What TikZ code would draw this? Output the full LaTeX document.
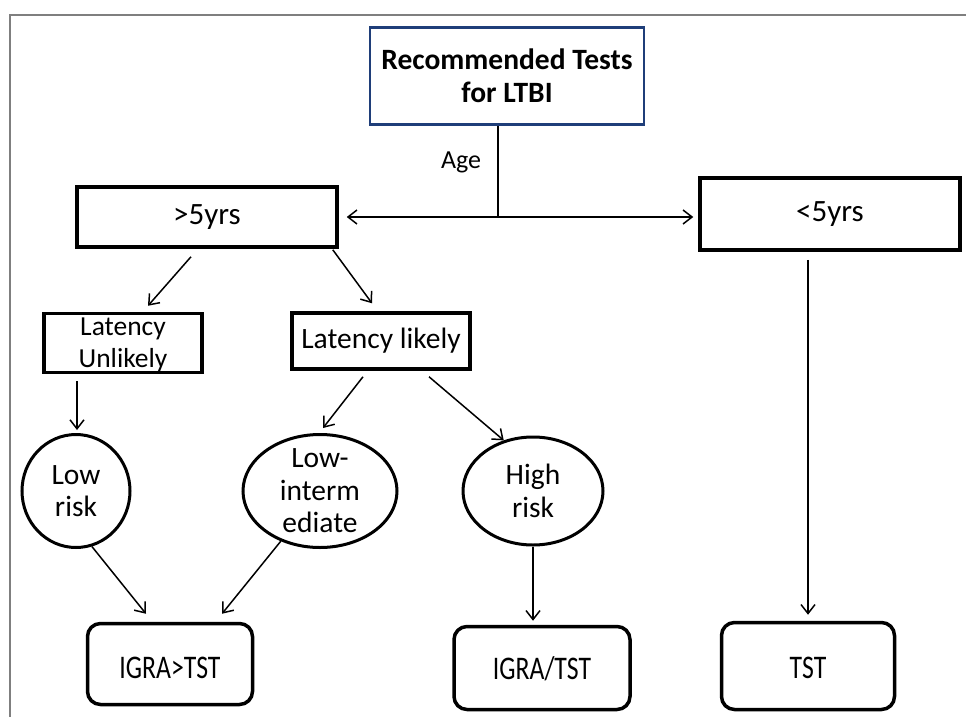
\documentclass[tikz,border=0pt]{standalone}
\usepackage{fontspec}
\setmainfont{Carlito}
\newfontfamily\testfont[FakeStretch=0.78]{Carlito}
\usetikzlibrary{shapes.geometric,arrows.meta}
\definecolor{ltbiblue}{HTML}{1F3E79}
\definecolor{framegray}{HTML}{7F7F7F}

\begin{document}
\begin{tikzpicture}[x=1pt,y=-1pt,
  every node/.style={font=\fontsize{29.5}{32.5}\selectfont, align=center, inner sep=0pt},
  agebox/.style={draw, line width=3.5pt},
  riskoval/.style={draw, ellipse, line width=3pt, inner sep=-8pt},
  testbox/.style={draw, rounded corners=13pt, line width=3.5pt, text height=29pt,
    font=\testfont\fontsize{33}{36}\selectfont},
  >={Straight Barb[length=9pt,width=14pt]},
  link/.style={line width=1.5pt}]
\useasboundingbox (0,0) rectangle (966,717);
\draw[framegray, line width=1.5pt] (10,717) -- (10,15) -- (966,15);
\node[draw=ltbiblue, line width=2.5pt, minimum width=274, minimum height=97,
  font=\fontsize{29.5}{33}\selectfont\bfseries] (top) at (507,76) {Recommended Tests\\for LTBI};
\node[agebox, minimum width=260, minimum height=60, font=\fontsize{31}{32}\selectfont] (older) at (207,217) {>5yrs};
\node[agebox, minimum width=260, minimum height=72, font=\fontsize{31}{32}\selectfont] (younger) at (830,214) {<5yrs};
\node[agebox, minimum width=158, minimum height=59, text depth=0pt,
  font=\fontsize{27.5}{32}\selectfont] (unlikely) at (123,343) {Latency\\Unlikely};
\node[agebox, minimum width=178, minimum height=56] (likely) at (381,341) {Latency likely};
\node[riskoval, minimum width=108, minimum height=113] (lowrisk) at (76,491) {Low\\risk};
\node[riskoval, minimum width=154, minimum height=113] (lowint) at (320,491) {Low-\\interm\\ediate};
\node[riskoval, minimum width=140, minimum height=108] (highrisk) at (533,491) {High\\risk};
\node[testbox, minimum width=165, minimum height=81] (igra1) at (170,664) {IGRA>TST};
\node[testbox, minimum width=176, minimum height=83, text height=25pt] (igra2) at (542,668) {IGRA/TST};
\node[testbox, minimum width=173, minimum height=87, text height=25pt] (tst) at (808,666) {TST};
\node[font=\fontsize{26}{30}\selectfont] (age) at (461,162) {Age};
\coordinate (split) at (498,217);
\draw[link] (split) -- (split |- top.south);
\draw[link, <->, shorten <=8pt, shorten >=5pt] (older.east) -- (older.east -| younger.west);
\draw[link, ->] ([xshift=-16pt,yshift=-8pt]older.south) -- ([xshift=25pt,yshift=6pt]unlikely.north);
\draw[link, ->] ([xshift=-6pt,yshift=-1pt]older.south east) -- ([xshift=-9pt,yshift=8pt]likely.north);
\draw[link, ->] ([xshift=-46pt,yshift=-7pt]unlikely.south) -- ([xshift=1pt,yshift=3pt]lowrisk.north);
\draw[link, ->] ([xshift=-18pt,yshift=-6pt]likely.south) -- ([xshift=3pt,yshift=5pt]lowint.north);
\draw[link, ->] ([xshift=48pt,yshift=-6pt]likely.south) -- (highrisk.120);
\draw[link, ->] (lowrisk.-74) -- ([xshift=-24pt,yshift=8pt]igra1.north);
\draw[link, ->] (lowint.-128) -- ([xshift=52pt,yshift=8pt]igra1.north);
\draw[link, ->] (highrisk.south) -- ([yshift=4pt]highrisk.south |- igra2.north);
\draw[link, ->, shorten <=8pt, shorten >=6pt] (tst.north |- younger.south) -- (tst.north);
\end{tikzpicture}
\end{document}
